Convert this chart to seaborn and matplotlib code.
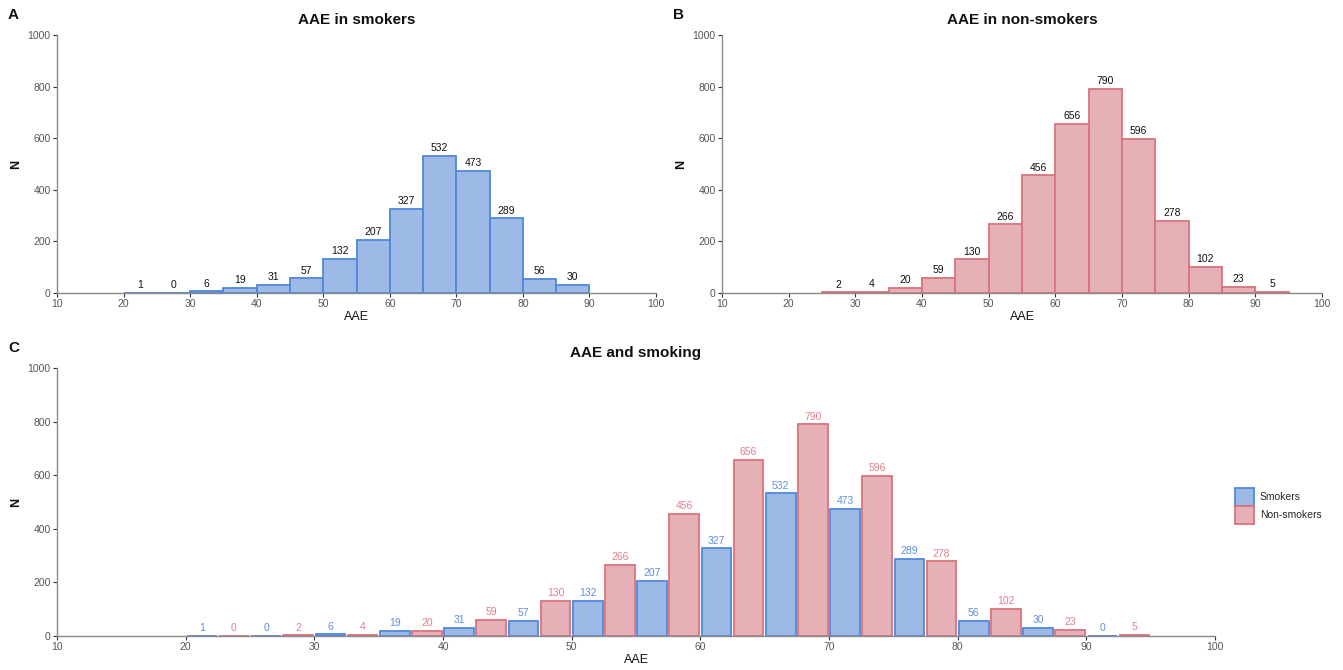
import numpy as np
import pandas as pd
import matplotlib
matplotlib.use("Agg")
import matplotlib.pyplot as plt
from matplotlib.patches import Patch
import seaborn as sns

# ---- data ---------------------------------------------------------------
bin_edges = [20, 25, 30, 35, 40, 45, 50, 55, 60, 65, 70, 75, 80, 85, 90, 95]
smokers_n = [1, 0, 6, 19, 31, 57, 132, 207, 327, 532, 473, 289, 56, 30, 0]
nonsmokers_n = [0, 2, 4, 20, 59, 130, 266, 456, 656, 790, 596, 278, 102, 23, 5]
groups = ["Smokers", "Non-smokers"]
x_ticks = [10, 20, 30, 40, 50, 60, 70, 80, 90, 100]
y_ticks = [0, 200, 400, 600, 800, 1000]

# ---- style --------------------------------------------------------------
sns.set_theme(style="white")
plt.rcParams["font.family"] = ["Liberation Sans", "DejaVu Sans"]

BLUE_FILL, BLUE_EDGE, BLUE_TEXT = "#9DB9E5", "#4F88DA", "#5B8FE3"
RED_FILL, RED_EDGE, RED_TEXT = "#E6B1B6", "#DA727D", "#E27E89"
AXIS_GREY = "#8A8A8A"
TICK_GREY = "#555555"

centers = [(a + b) / 2 for a, b in zip(bin_edges[:-1], bin_edges[1:])]

W, H = 1343, 670
fig = plt.figure(figsize=(W / 100, H / 100), dpi=100)


def px_axes(left, top, right, bottom):
    return fig.add_axes([left / W, 1 - bottom / H, (right - left) / W, (bottom - top) / H])


def style_axes(ax, title):
    ax.set_xlim(10, 100)
    ax.set_ylim(0, 1000)
    ax.set_xticks(x_ticks)
    ax.set_yticks(y_ticks)
    sns.despine(ax=ax)
    for side in ("left", "bottom"):
        ax.spines[side].set_color(AXIS_GREY)
        ax.spines[side].set_linewidth(1.0)
    ax.tick_params(axis="both", which="major", length=3, width=0.8,
                   color="#333333", labelsize=7.5, labelcolor=TICK_GREY, pad=1.5,
                   bottom=True, left=True)
    ax.set_xlabel("AAE", fontsize=9, color="#111111", labelpad=1)
    ax.set_ylabel("N", fontsize=9, color="#111111", fontweight="bold", labelpad=4)
    ax.set_title(title, fontsize=11, fontweight="bold", color="#111111", pad=8)
    ax.grid(False)


def single_hist(ax, counts, fill, edge, drop_leading_zero):
    lo, hi = 0, len(counts)
    # trim empty bins at the ends so the histogram spans only the observed range
    if drop_leading_zero:
        while counts[lo] == 0:
            lo += 1
    else:
        while counts[hi - 1] == 0:
            hi -= 1
    xs, ws = centers[lo:hi], counts[lo:hi]
    sns.histplot(x=xs, weights=ws, bins=bin_edges[lo:hi + 1], ax=ax,
                 color=fill, alpha=1, edgecolor=edge, linewidth=1.3)
    for p in ax.patches:
        p.set_facecolor(fill)
        p.set_edgecolor(edge)
    for c, n in zip(xs, ws):
        ax.annotate(str(n), (c, n), xytext=(0, 2), textcoords="offset points",
                    ha="center", va="bottom", fontsize=7.5, color="#111111")


# Panel A: smokers
axA = px_axes(57, 35, 656, 293)
single_hist(axA, smokers_n, BLUE_FILL, BLUE_EDGE, drop_leading_zero=False)
style_axes(axA, "AAE in smokers")

# Panel B: non-smokers
axB = px_axes(722, 35, 1322, 293)
single_hist(axB, nonsmokers_n, RED_FILL, RED_EDGE, drop_leading_zero=True)
style_axes(axB, "AAE in non-smokers")

# Panel C: both groups dodged within each bin
axC = px_axes(57, 368, 1215, 636)
long = pd.DataFrame({
    "AAE": centers * 2,
    "N": smokers_n + nonsmokers_n,
    "group": [groups[0]] * len(centers) + [groups[1]] * len(centers),
})
sns.histplot(data=long, x="AAE", weights="N", hue="group", hue_order=groups,
             bins=bin_edges, multiple="dodge", shrink=1.0, alpha=1,
             palette={groups[0]: BLUE_FILL, groups[1]: RED_FILL},
             linewidth=1.3, legend=False, ax=axC)
edge_for = {matplotlib.colors.to_hex(BLUE_FILL): BLUE_EDGE,
            matplotlib.colors.to_hex(RED_FILL): RED_EDGE}
gap = 0.08  # fraction of each dodged bar left as white space
for p in axC.patches:
    fc = matplotlib.colors.to_hex(p.get_facecolor())
    p.set_edgecolor(edge_for.get(fc, "#888888"))
    p.set_linewidth(1.3)
    w = p.get_width()
    p.set_x(p.get_x() + w * gap / 2)
    p.set_width(w * (1 - gap))
half = 2.5
for c, s, ns in zip(centers, smokers_n, nonsmokers_n):
    axC.annotate(str(s), (c - half / 2, s), xytext=(0, 2), textcoords="offset points",
                 ha="center", va="bottom", fontsize=7.5, color=BLUE_TEXT)
    axC.annotate(str(ns), (c + half / 2, ns), xytext=(0, 2), textcoords="offset points",
                 ha="center", va="bottom", fontsize=7.5, color=RED_TEXT)
style_axes(axC, "AAE and smoking")

handles = [Patch(facecolor=BLUE_FILL, edgecolor=BLUE_EDGE, linewidth=1.3, label=groups[0]),
           Patch(facecolor=RED_FILL, edgecolor=RED_EDGE, linewidth=1.3, label=groups[1])]
fig.legend(handles=handles, loc="center left", bbox_to_anchor=(1235 / W, 1 - 506 / H),
           frameon=False, fontsize=7.5, handlelength=1.8, handleheight=2.3,
           handletextpad=0.6, labelspacing=0.0, borderaxespad=0, borderpad=0)

# Panel tags
for tag, (x, y) in {"A": (8, 15), "B": (673, 15), "C": (8, 348)}.items():
    fig.text(x / W, 1 - y / H, tag, fontsize=11, fontweight="bold",
             ha="left", va="center", color="#111111")

fig.savefig("out.png", dpi=100)
